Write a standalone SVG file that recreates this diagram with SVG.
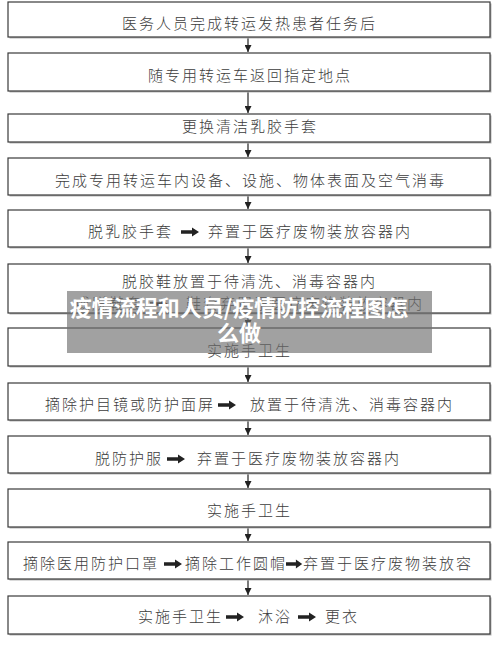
<svg xmlns="http://www.w3.org/2000/svg" width="500" height="645" viewBox="0 0 500 645">
<style>
.box{fill:#fff;stroke:#3a3a3a;stroke-width:1.2}
.sh{fill:#b5b5b5}
.t{font-family:"Noto Sans CJK SC","Noto Sans",sans-serif;font-size:15px;font-weight:300;letter-spacing:2px;fill:#3c3c3c}
.conn{stroke:#222;stroke-width:1.2;fill:none}
.ia{fill:#222}
.title{font-family:"Noto Sans CJK SC","Noto Sans",sans-serif;font-size:22px;font-weight:700;fill:#fff;text-anchor:middle}
</style>
<defs>
<marker id="down" markerUnits="userSpaceOnUse" markerWidth="7" markerHeight="7" viewBox="0 0 7 7" refX="3.5" refY="7" orient="0">
<path d="M0,0 L7,0 L3.5,7 Z" fill="#222"/>
</marker>
<path id="ia" d="M0,-1.7 H11 V-4.5 L18,0 L11,4.5 V1.7 H0 Z"/>
</defs>
<rect width="500" height="645" fill="#fff"/>

<g id="connectors">
<line class="conn" x1="248" y1="37" x2="248" y2="52" marker-end="url(#down)"/>
<line class="conn" x1="248" y1="91" x2="248" y2="113" marker-end="url(#down)"/>
<line class="conn" x1="248" y1="142" x2="248" y2="157" marker-end="url(#down)"/>
<line class="conn" x1="248" y1="195" x2="248" y2="209" marker-end="url(#down)"/>
<line class="conn" x1="248" y1="247" x2="248" y2="263" marker-end="url(#down)"/>
<line class="conn" x1="248" y1="313" x2="248" y2="327" marker-end="url(#down)"/>
<line class="conn" x1="248" y1="366" x2="248" y2="382" marker-end="url(#down)"/>
<line class="conn" x1="248" y1="420" x2="248" y2="435" marker-end="url(#down)"/>
<line class="conn" x1="248" y1="473" x2="248" y2="488" marker-end="url(#down)"/>
<line class="conn" x1="248" y1="527" x2="248" y2="541" marker-end="url(#down)"/>
<line class="conn" x1="248" y1="579" x2="248" y2="595" marker-end="url(#down)"/>
</g>

<g id="n1"><rect class="sh" x="9.5" y="3.5" width="482" height="35"/><rect class="box" x="8" y="2" width="482" height="35"/>
<text class="t" x="122" y="29">医务人员完成转运发热患者任务后</text></g>

<g id="n2"><rect class="sh" x="9.5" y="54.5" width="482" height="38"/><rect class="box" x="8" y="53" width="482" height="38"/>
<text class="t" x="148" y="81">随专用转运车返回指定地点</text></g>

<g id="n3"><rect class="sh" x="9.5" y="115.5" width="482" height="28"/><rect class="box" x="8" y="114" width="482" height="28"/>
<text class="t" x="182" y="132">更换清洁乳胶手套</text></g>

<g id="n4"><rect class="sh" x="9.5" y="159.5" width="482" height="37"/><rect class="box" x="8" y="158" width="482" height="37"/>
<text class="t" x="55" y="186">完成专用转运车内设备、设施、物体表面及空气消毒</text></g>

<g id="n5"><rect class="sh" x="9.5" y="211.5" width="482" height="37"/><rect class="box" x="8" y="210" width="482" height="37"/>
<text class="t" x="88" y="237">脱乳胶手套</text>
<use href="#ia" class="ia" transform="translate(181,232)"/>
<text class="t" x="208" y="237">弃置于医疗废物装放容器内</text></g>

<g id="n6"><rect class="sh" x="9.5" y="265.5" width="482" height="49"/><rect class="box" x="8" y="264" width="482" height="49"/>
<text class="t" x="122" y="287">脱胶鞋放置于待清洗、消毒容器内</text>
<text class="t" x="75" y="309">或脱鞋套</text>
<use href="#ia" class="ia" transform="translate(150,304)"/>
<text class="t" x="186" y="309">鞋套弃置于医疗废物装放容器内</text></g>

<g id="n7"><rect class="sh" x="9.5" y="329.5" width="482" height="38"/><rect class="box" x="8" y="328" width="482" height="38"/>
<text class="t" x="207" y="356">实施手卫生</text></g>

<g id="n8"><rect class="sh" x="9.5" y="384.5" width="482" height="37"/><rect class="box" x="8" y="383" width="482" height="37"/>
<text class="t" x="45" y="410">摘除护目镜或防护面屏</text>
<use href="#ia" class="ia" transform="translate(218,405)"/>
<text class="t" x="250" y="410">放置于待清洗、消毒容器内</text></g>

<g id="n9"><rect class="sh" x="9.5" y="437.5" width="482" height="37"/><rect class="box" x="8" y="436" width="482" height="37"/>
<text class="t" x="95" y="464">脱防护服</text>
<use href="#ia" class="ia" transform="translate(167,459)"/>
<text class="t" x="197" y="464">弃置于医疗废物装放容器内</text></g>

<g id="n10"><rect class="sh" x="9.5" y="490.5" width="482" height="38"/><rect class="box" x="8" y="489" width="482" height="38"/>
<text class="t" x="207" y="516">实施手卫生</text></g>

<g id="n11"><rect class="sh" x="9.5" y="543.5" width="482" height="37"/><rect class="box" x="8" y="542" width="482" height="37"/>
<text class="t" x="23" y="569">摘除医用防护口罩</text>
<use href="#ia" class="ia" transform="translate(164,564)"/>
<text class="t" x="185" y="569">摘除工作圆帽</text>
<use href="#ia" class="ia" transform="translate(286,564) scale(0.9,1)"/>
<text class="t" x="303" y="569">弃置于医疗废物装放容</text></g>

<g id="n12"><rect class="sh" x="9.5" y="597.5" width="482" height="38"/><rect class="box" x="8" y="596" width="482" height="38"/>
<text class="t" x="138" y="622">实施手卫生</text>
<use href="#ia" class="ia" transform="translate(226,617)"/>
<text class="t" x="258" y="622">沐浴</text>
<use href="#ia" class="ia" transform="translate(298,617)"/>
<text class="t" x="325" y="622">更衣</text></g>

<g id="overlay">
<rect x="67" y="291" width="365" height="62" fill="#6e6e6e" fill-opacity="0.65"/>
<text class="title" x="239" y="316">疫情流程和人员/疫情防控流程图怎</text>
<text class="title" x="239" y="341">么做</text>
</g>
</svg>
